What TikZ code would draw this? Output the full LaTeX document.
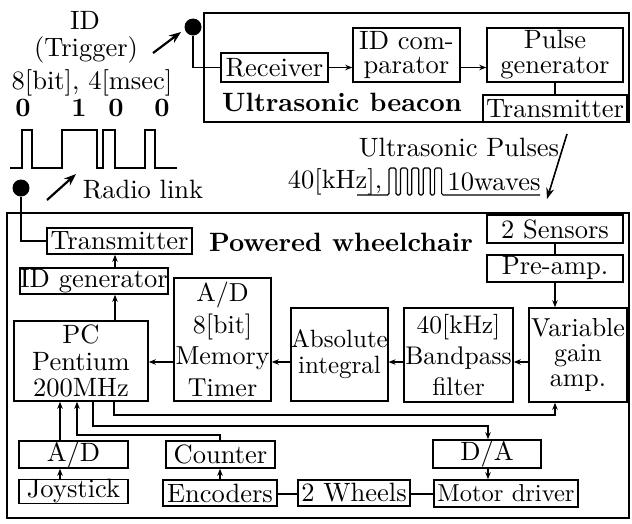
\documentclass[tikz,border=0pt]{standalone}
\usepackage{fontspec}
\setmainfont{lmroman10-regular}[Extension=.otf,BoldFont=lmroman10-bold,SizeFeatures={{Size={-}}}]
\usetikzlibrary{arrows.meta}
\begin{document}
\begin{tikzpicture}[x=1pt,y=-1pt,
  font=\fontsize{26.5}{28}\selectfont,
  blk/.style={draw,line width=1.5pt,inner sep=0pt,align=center},
  outer/.style={draw,line width=2.8pt,inner sep=0pt},
  txt/.style={inner sep=0pt,align=center},
  bold/.style={font=\fontsize{26.5}{28}\selectfont\bfseries},
  arr/.style={line width=1.1pt,-{Stealth[length=7pt,width=5.5pt]}},
  ln/.style={line width=1.1pt},
  bigarr/.style={line width=2.2pt,-{Stealth[length=12pt,width=9pt]}},
  dot/.style={circle,fill,inner sep=0pt,minimum size=17pt}]
\useasboundingbox (0,0) rectangle (632,523);

% ---------------- Ultrasonic beacon ----------------
\node[outer,minimum width=425pt,minimum height=109pt] (beacon) at (416.5,67.5) {};
\node[blk,minimum width=107pt,minimum height=29pt] (recv) at (274.5,67.5) {Receiver};
\node[blk,minimum width=107pt,minimum height=54pt,font=\fontsize{26.5}{24}\selectfont] (idc) at (406.5,55) {ID com-\\parator};
\node[blk,minimum width=136pt,minimum height=54pt,font=\fontsize{26.5}{25}\selectfont] (pg) at (555,55) {Pulse\\generator};
\node[blk,minimum width=144pt,minimum height=27pt] (tx1) at (555,108.5) {Transmitter};
\node[txt,bold] (bt) at (342,102) {Ultrasonic beacon};

\node[dot] (d1) at (193,27) {};
\draw[ln] (d1.south) |- (recv.west);
\draw[arr] (recv.east) -- (recv.east -| idc.west);
\draw[arr] (recv.east -| idc.east) -- (recv.east -| pg.west);
\draw[ln] (pg.south) -- (tx1.north);
\coordinate (a1s) at (153,53);
\coordinate (a1e) at (181,32);
\draw[bigarr] (a1s) -- (a1e);

% ---------------- ID signal ----------------
\node[txt] (tid) at (85,20) {ID};
\node[txt] (ttr) at (86,50) {(Trigger)};
\node[txt] (tbit) at (92,83) {8[bit], 4[msec]};
\node[txt,bold] (b1) at (23,108) {0};
\node[txt,bold] (b2) at (79,108) {1};
\node[txt,bold] (b3) at (116,108) {0};
\node[txt,bold] (b4) at (162,108) {0};
\draw[line width=1.5pt] (10,168) -- (22,168) -- (22,130) -- (32,130) -- (32,168)
  -- (62,168) -- (62,130) -- (97,130) -- (97,168)
  -- (103,168) -- (103,130) -- (115,130) -- (115,168)
  -- (145,168) -- (145,130) -- (155,130) -- (155,168) -- (177,168);

\node[dot] (d2) at (21,188) {};
\coordinate (a2s) at (47,200);
\coordinate (a2e) at (76,174);
\draw[bigarr] (a2s) -- (a2e);
\node[txt] (trl) at (143,190) {Radio link};

% ---------------- Ultrasonic pulses ----------------
\node[txt] (tup) at (459,148) {Ultrasonic Pulses};
\node[txt] (tkhz) at (335,182) {40[kHz],};
\node[txt] (twv) at (494,182) {10waves};
\draw[line width=1.2pt,rounded corners=1.5pt] (357,195) -- (389,195)
  foreach \i in {1,...,5} { -- ++(0,-27) -- ++(7,0) -- ++(0,27) -- ++(4.4,0) } -- (540,195);
\coordinate (a3s) at (567,134);
\coordinate (a3e) at (547,199);
\draw[line width=1.6pt,-{Stealth[length=11pt,width=8pt]}] (a3s) -- (a3e);

% ---------------- Powered wheelchair ----------------
\node[outer,minimum width=622pt,minimum height=305pt] (wc) at (318,365.5) {};
\node[blk,minimum width=145pt,minimum height=26pt] (tx2) at (119.5,241) {Transmitter};
\node[txt,bold] (wt) at (341,242) {Powered wheelchair};
\node[blk,minimum width=148pt,minimum height=26pt] (idg) at (94,281) {ID generator};
\node[blk,minimum width=134pt,minimum height=80pt,font=\fontsize{26.5}{26.5}\selectfont] (pc) at (81,361) {PC\\Pentium\\200MHz};
\node[blk,minimum width=97pt,minimum height=123pt,font=\fontsize{26}{31.5}\selectfont] (adm) at (222.5,339.5) {A/D\\8[bit]\\Memory\\Timer};
\node[blk,minimum width=95pt,minimum height=93pt,font=\fontsize{25}{26}\selectfont] (abs) at (339.5,354.5) {Absolute\\integral};
\node[blk,minimum width=109pt,minimum height=94pt,font=\fontsize{25.5}{31}\selectfont] (bpf) at (458.5,355) {40[kHz]\\Bandpass\\filter};
\node[blk,minimum width=98pt,minimum height=94pt,font=\fontsize{26}{25}\selectfont] (vga) at (578,355) {Variable\\gain\\amp.};
\node[blk,minimum width=136pt,minimum height=28pt] (sen) at (555,229) {2 Sensors};
\node[blk,minimum width=136pt,minimum height=27pt] (pre) at (555,268.5) {Pre-amp.};
\node[blk,minimum width=109pt,minimum height=27pt] (ad) at (73.5,454.5) {A/D};
\node[blk,minimum width=109pt,minimum height=23pt] (joy) at (73.5,491.5) {Joystick};
\node[blk,minimum width=109pt,minimum height=27pt] (cnt) at (220.5,454.5) {Counter};
\node[blk,minimum width=114pt,minimum height=26pt] (enc) at (220,493) {Encoders};
\node[blk,minimum width=112pt,minimum height=26pt] (whl) at (354,493) {2 Wheels};
\node[blk,minimum width=108pt,minimum height=28pt] (da) at (487,454) {D/A};
\node[blk,minimum width=144pt,minimum height=27pt,font=\fontsize{24.5}{28}\selectfont] (mot) at (506,493.5) {Motor driver};

\draw[ln] (d2.south) |- (tx2.west);

% guide coordinates
\coordinate (xa) at (115,0);
\coordinate (xj) at (60,0);
\coordinate (xc) at (77,0);
\coordinate (xe) at (220,0);
\coordinate (xd) at (93,0);
\coordinate (xv) at (114,0);
\coordinate (xm) at (488,0);
\coordinate (xs) at (555,0);
\coordinate (yc) at (0,435);
\coordinate (yd) at (0,426);
\coordinate (yv) at (0,415);
\coordinate (ym) at (0,362);
\coordinate (yw) at (0,494);

\draw[arr] (idg.north -| xa) -- (tx2.south -| xa);
\draw[arr] (pc.north -| xa) -- (idg.south -| xa);
\draw[arr] (vga.west |- ym) -- (bpf.east |- ym);
\draw[arr] (bpf.west |- ym) -- (abs.east |- ym);
\draw[arr] (abs.west |- ym) -- (adm.east |- ym);
\draw[arr] (adm.west |- ym) -- (pc.east |- ym);
\draw[ln] (sen.south -| xs) -- (pre.north -| xs);
\draw[arr] (pre.south -| xs) -- (vga.north -| xs);
\draw[arr] (joy.north -| xj) -- (ad.south -| xj);
\draw[arr] (ad.north -| xj) -- (pc.south -| xj);
\draw[arr] (cnt.north -| xe) -- (xe |- yc) -- (xc |- yc) -- (pc.south -| xc);
\draw[arr] (enc.north -| xe) -- (cnt.south -| xe);
\draw[ln] (enc.east |- yw) -- (whl.west |- yw);
\draw[ln] (whl.east |- yw) -- (mot.west |- yw);
\draw[arr] (pc.south -| xd) -- (xd |- yd) -- (xm |- yd) -- (da.north -| xm);
\draw[arr] (pc.south -| xv) -- (xv |- yv) -- (xs |- yv) -- (vga.south -| xs);
\draw[arr] (da.south -| xm) -- (mot.north -| xm);
\end{tikzpicture}
\end{document}
